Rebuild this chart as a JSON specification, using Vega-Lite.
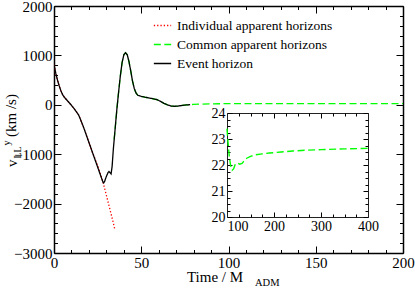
{
  "$schema": "https://vega.github.io/schema/vega-lite/v6.json",
  "width": 349,
  "height": 247,
  "autosize": "none",
  "padding": {"left": 54, "top": 6, "right": 12, "bottom": 35},
  "config": {
    "view": {"stroke": null},
    "axis": {"grid": false, "labelFont": "Times New Roman", "labelFontSize": 15, "labelColor": "#000", "domainColor": "#000", "tickColor": "#000", "labelFlush": false, "labelOverlap": false, "title": null},
    "legend": {"labelFont": "Times New Roman", "labelLimit": 0}
  },
  "datasets": {
    "main": [
      {"s": "Individual apparent horizons", "t": 0, "v": 810}, {"s": "Individual apparent horizons", "t": 1, "v": 640}, {"s": "Individual apparent horizons", "t": 2, "v": 500}, {"s": "Individual apparent horizons", "t": 3, "v": 380}, {"s": "Individual apparent horizons", "t": 4, "v": 280}, {"s": "Individual apparent horizons", "t": 5, "v": 200}, {"s": "Individual apparent horizons", "t": 6, "v": 150}, {"s": "Individual apparent horizons", "t": 8, "v": 70}, {"s": "Individual apparent horizons", "t": 10, "v": -10}, {"s": "Individual apparent horizons", "t": 12, "v": -100}, {"s": "Individual apparent horizons", "t": 14, "v": -200}, {"s": "Individual apparent horizons", "t": 15, "v": -280}, {"s": "Individual apparent horizons", "t": 16, "v": -370}, {"s": "Individual apparent horizons", "t": 17, "v": -460}, {"s": "Individual apparent horizons", "t": 18, "v": -560}, {"s": "Individual apparent horizons", "t": 19, "v": -660}, {"s": "Individual apparent horizons", "t": 20, "v": -760}, {"s": "Individual apparent horizons", "t": 21, "v": -860}, {"s": "Individual apparent horizons", "t": 22, "v": -960}, {"s": "Individual apparent horizons", "t": 23, "v": -1050}, {"s": "Individual apparent horizons", "t": 24, "v": -1140}, {"s": "Individual apparent horizons", "t": 25, "v": -1230}, {"s": "Individual apparent horizons", "t": 26, "v": -1330}, {"s": "Individual apparent horizons", "t": 27, "v": -1440}, {"s": "Individual apparent horizons", "t": 28, "v": -1560}, {"s": "Individual apparent horizons", "t": 29, "v": -1690}, {"s": "Individual apparent horizons", "t": 30, "v": -1830}, {"s": "Individual apparent horizons", "t": 31, "v": -1970}, {"s": "Individual apparent horizons", "t": 32, "v": -2110}, {"s": "Individual apparent horizons", "t": 33, "v": -2250}, {"s": "Individual apparent horizons", "t": 34, "v": -2390}, {"s": "Individual apparent horizons", "t": 34.9, "v": -2530},

      {"s": "Common apparent horizons", "t": 34.5, "v": -700}, {"s": "Common apparent horizons", "t": 35, "v": -500}, {"s": "Common apparent horizons", "t": 36, "v": -100}, {"s": "Common apparent horizons", "t": 37, "v": 250}, {"s": "Common apparent horizons", "t": 38, "v": 580}, {"s": "Common apparent horizons", "t": 39, "v": 850}, {"s": "Common apparent horizons", "t": 40, "v": 1010}, {"s": "Common apparent horizons", "t": 41, "v": 1055}, {"s": "Common apparent horizons", "t": 42, "v": 1010}, {"s": "Common apparent horizons", "t": 43, "v": 870}, {"s": "Common apparent horizons", "t": 44, "v": 680}, {"s": "Common apparent horizons", "t": 45, "v": 480}, {"s": "Common apparent horizons", "t": 46, "v": 330}, {"s": "Common apparent horizons", "t": 47, "v": 240}, {"s": "Common apparent horizons", "t": 48, "v": 195}, {"s": "Common apparent horizons", "t": 50, "v": 170}, {"s": "Common apparent horizons", "t": 52, "v": 155}, {"s": "Common apparent horizons", "t": 55, "v": 135}, {"s": "Common apparent horizons", "t": 57, "v": 120}, {"s": "Common apparent horizons", "t": 59, "v": 105}, {"s": "Common apparent horizons", "t": 61, "v": 70}, {"s": "Common apparent horizons", "t": 63, "v": 30}, {"s": "Common apparent horizons", "t": 65, "v": 0}, {"s": "Common apparent horizons", "t": 67, "v": -25}, {"s": "Common apparent horizons", "t": 69, "v": -30}, {"s": "Common apparent horizons", "t": 71, "v": -25}, {"s": "Common apparent horizons", "t": 73, "v": -15}, {"s": "Common apparent horizons", "t": 75, "v": -5}, {"s": "Common apparent horizons", "t": 77, "v": 0}, {"s": "Common apparent horizons", "t": 78, "v": 3}, {"s": "Common apparent horizons", "t": 80, "v": 8}, {"s": "Common apparent horizons", "t": 85, "v": 15}, {"s": "Common apparent horizons", "t": 90, "v": 20}, {"s": "Common apparent horizons", "t": 100, "v": 23}, {"s": "Common apparent horizons", "t": 120, "v": 22}, {"s": "Common apparent horizons", "t": 150, "v": 22.3}, {"s": "Common apparent horizons", "t": 200, "v": 22.5},

      {"s": "Event horizon", "t": 0, "v": 810}, {"s": "Event horizon", "t": 1, "v": 640}, {"s": "Event horizon", "t": 2, "v": 500}, {"s": "Event horizon", "t": 3, "v": 380}, {"s": "Event horizon", "t": 4, "v": 280}, {"s": "Event horizon", "t": 5, "v": 200}, {"s": "Event horizon", "t": 6, "v": 150}, {"s": "Event horizon", "t": 8, "v": 70}, {"s": "Event horizon", "t": 10, "v": -10}, {"s": "Event horizon", "t": 12, "v": -100}, {"s": "Event horizon", "t": 14, "v": -200}, {"s": "Event horizon", "t": 15, "v": -280}, {"s": "Event horizon", "t": 16, "v": -370}, {"s": "Event horizon", "t": 17, "v": -460}, {"s": "Event horizon", "t": 18, "v": -560}, {"s": "Event horizon", "t": 19, "v": -660}, {"s": "Event horizon", "t": 20, "v": -760}, {"s": "Event horizon", "t": 21, "v": -860}, {"s": "Event horizon", "t": 22, "v": -960}, {"s": "Event horizon", "t": 23, "v": -1060}, {"s": "Event horizon", "t": 24, "v": -1160}, {"s": "Event horizon", "t": 25, "v": -1260}, {"s": "Event horizon", "t": 26, "v": -1360}, {"s": "Event horizon", "t": 27, "v": -1460}, {"s": "Event horizon", "t": 28, "v": -1560}, {"s": "Event horizon", "t": 28.5, "v": -1580}, {"s": "Event horizon", "t": 29, "v": -1550}, {"s": "Event horizon", "t": 30, "v": -1450}, {"s": "Event horizon", "t": 31, "v": -1370}, {"s": "Event horizon", "t": 31.5, "v": -1350}, {"s": "Event horizon", "t": 32, "v": -1370}, {"s": "Event horizon", "t": 32.7, "v": -1400}, {"s": "Event horizon", "t": 33.3, "v": -1250}, {"s": "Event horizon", "t": 34, "v": -900}, {"s": "Event horizon", "t": 35, "v": -500}, {"s": "Event horizon", "t": 36, "v": -100}, {"s": "Event horizon", "t": 37, "v": 250}, {"s": "Event horizon", "t": 38, "v": 580}, {"s": "Event horizon", "t": 39, "v": 850}, {"s": "Event horizon", "t": 40, "v": 1010}, {"s": "Event horizon", "t": 41, "v": 1055}, {"s": "Event horizon", "t": 42, "v": 1010}, {"s": "Event horizon", "t": 43, "v": 870}, {"s": "Event horizon", "t": 44, "v": 680}, {"s": "Event horizon", "t": 45, "v": 480}, {"s": "Event horizon", "t": 46, "v": 330}, {"s": "Event horizon", "t": 47, "v": 240}, {"s": "Event horizon", "t": 48, "v": 195}, {"s": "Event horizon", "t": 50, "v": 170}, {"s": "Event horizon", "t": 52, "v": 155}, {"s": "Event horizon", "t": 55, "v": 135}, {"s": "Event horizon", "t": 57, "v": 120}, {"s": "Event horizon", "t": 59, "v": 105}, {"s": "Event horizon", "t": 61, "v": 70}, {"s": "Event horizon", "t": 63, "v": 30}, {"s": "Event horizon", "t": 65, "v": 0}, {"s": "Event horizon", "t": 67, "v": -25}, {"s": "Event horizon", "t": 69, "v": -30}, {"s": "Event horizon", "t": 71, "v": -25}, {"s": "Event horizon", "t": 73, "v": -15}, {"s": "Event horizon", "t": 75, "v": -5}, {"s": "Event horizon", "t": 77, "v": 0}, {"s": "Event horizon", "t": 78, "v": 3}
    ],
    "inset": [
      {"t": 100, "v": 23.4}, {"t": 102, "v": 22.9}, {"t": 105, "v": 22.3}, {"t": 108, "v": 21.95}, {"t": 111, "v": 21.8}, {"t": 114, "v": 21.85}, {"t": 118, "v": 22.05}, {"t": 122, "v": 22.08}, {"t": 127, "v": 22.03}, {"t": 132, "v": 22.06}, {"t": 137, "v": 22.17}, {"t": 142, "v": 22.26}, {"t": 150, "v": 22.33}, {"t": 160, "v": 22.39}, {"t": 175, "v": 22.43}, {"t": 190, "v": 22.46}, {"t": 215, "v": 22.5}, {"t": 240, "v": 22.54}, {"t": 270, "v": 22.57}, {"t": 300, "v": 22.59}, {"t": 350, "v": 22.62}, {"t": 400, "v": 22.64}
    ],
    "bigh": [{"txt": "Time / M", "t": 76.2, "v": -3587}],
    "smallh": [{"txt": "ADM", "t": 115.2, "v": -3668}],
    "bigv": [{"txt": "v", "t": -21.2, "v": -1259}, {"txt": "(km /s)", "t": -21.8, "v": -652}],
    "smallv": [{"txt": "LL", "t": -18.9, "v": -1087}, {"txt": "y", "t": -25.5, "v": -824}]
  },
  "layer": [
    {
      "data": {"name": "main"},
      "mark": {"type": "line", "strokeWidth": 1.3, "clip": true},
      "encoding": {
        "x": {"field": "t", "type": "quantitative", "scale": {"domain": [0, 200], "range": [0, 349], "nice": false, "zero": false},
          "axis": {"orient": "bottom", "values": [0, 50, 100, 150, 200], "tickSize": -7, "labelPadding": 9, "domainWidth": 1.5}},
        "y": {"field": "v", "type": "quantitative", "scale": {"domain": [-3000, 2000], "range": [247, 0], "nice": false, "zero": false},
          "axis": {"orient": "left", "values": [-3000, -2000, -1000, 0, 1000, 2000], "tickSize": -7, "labelPadding": 9, "domainWidth": 1.5, "format": "d"}},
        "color": {"field": "s", "type": "nominal", "scale": {"domain": ["Individual apparent horizons", "Common apparent horizons", "Event horizon"], "range": ["#ff0000", "#00ff00", "#000000"]},
          "legend": {"orient": "none", "legendX": 99, "legendY": 10, "title": null, "symbolType": "stroke", "symbolSize": 300, "symbolStrokeWidth": 1.5, "labelFontSize": 13.5, "labelColor": "#000", "rowPadding": 3, "labelOffset": 5, "padding": 0}},
        "strokeDash": {"field": "s", "type": "nominal", "scale": {"domain": ["Individual apparent horizons", "Common apparent horizons", "Event horizon"], "range": [[1.3, 2], [7, 3.5], [1, 0]]}}
      }
    },
    {
      "data": {"name": "main"},
      "mark": {"type": "point", "opacity": 0},
      "encoding": {
        "x": {"field": "t", "type": "quantitative", "scale": {"domain": [0, 200], "range": [0, 349], "nice": false, "zero": false}, "axis": {"orient": "top", "values": [0, 50, 100, 150, 200], "tickSize": -7, "labels": false, "domainWidth": 1.5}},
        "y": {"field": "v", "type": "quantitative", "scale": {"domain": [-3000, 2000], "range": [247, 0], "nice": false, "zero": false}, "axis": {"orient": "right", "values": [-3000, -2000, -1000, 0, 1000, 2000], "tickSize": -7, "labels": false, "domainWidth": 1.5}}
      }
    },
    {
      "data": {"name": "main"},
      "mark": {"type": "point", "opacity": 0},
      "encoding": {
        "x": {"field": "t", "type": "quantitative", "scale": {"domain": [0, 200], "range": [0, 349], "nice": false, "zero": false}, "axis": {"orient": "bottom", "values": [10, 20, 30, 40, 60, 70, 80, 90, 110, 120, 130, 140, 160, 170, 180, 190], "tickSize": -3.5, "labels": false, "domain": false}},
        "y": {"field": "v", "type": "quantitative", "scale": {"domain": [-3000, 2000], "range": [247, 0], "nice": false, "zero": false}, "axis": {"orient": "left", "values": [-2800, -2600, -2400, -2200, -1800, -1600, -1400, -1200, -800, -600, -400, -200, 200, 400, 600, 800, 1200, 1400, 1600, 1800], "tickSize": -3.5, "labels": false, "domain": false}}
      }
    },
    {
      "data": {"name": "main"},
      "mark": {"type": "point", "opacity": 0},
      "encoding": {
        "x": {"field": "t", "type": "quantitative", "scale": {"domain": [0, 200], "range": [0, 349], "nice": false, "zero": false}, "axis": {"orient": "top", "values": [10, 20, 30, 40, 60, 70, 80, 90, 110, 120, 130, 140, 160, 170, 180, 190], "tickSize": -3.5, "labels": false, "domain": false}},
        "y": {"field": "v", "type": "quantitative", "scale": {"domain": [-3000, 2000], "range": [247, 0], "nice": false, "zero": false}, "axis": {"orient": "right", "values": [-2800, -2600, -2400, -2200, -1800, -1600, -1400, -1200, -800, -600, -400, -200, 200, 400, 600, 800, 1200, 1400, 1600, 1800], "tickSize": -3.5, "labels": false, "domain": false}}
      }
    },
    {
      "data": {"name": "bigh"},
      "mark": {"type": "text", "align": "left", "baseline": "alphabetic", "color": "#000", "font": "Times New Roman", "fontSize": 15},
      "encoding": {"x": {"field": "t", "type": "quantitative", "scale": {"domain": [0, 200], "range": [0, 349], "nice": false, "zero": false}, "axis": null}, "y": {"field": "v", "type": "quantitative", "scale": {"domain": [-3000, 2000], "range": [247, 0], "nice": false, "zero": false}, "axis": null}, "text": {"field": "txt"}}
    },
    {
      "data": {"name": "smallh"},
      "mark": {"type": "text", "align": "left", "baseline": "alphabetic", "color": "#000", "font": "Times New Roman", "fontSize": 10.5},
      "encoding": {"x": {"field": "t", "type": "quantitative", "scale": {"domain": [0, 200], "range": [0, 349], "nice": false, "zero": false}, "axis": null}, "y": {"field": "v", "type": "quantitative", "scale": {"domain": [-3000, 2000], "range": [247, 0], "nice": false, "zero": false}, "axis": null}, "text": {"field": "txt"}}
    },
    {
      "data": {"name": "bigv"},
      "mark": {"type": "text", "align": "left", "baseline": "alphabetic", "color": "#000", "font": "Times New Roman", "fontSize": 15, "angle": 270},
      "encoding": {"x": {"field": "t", "type": "quantitative", "scale": {"domain": [0, 200], "range": [0, 349], "nice": false, "zero": false}, "axis": null}, "y": {"field": "v", "type": "quantitative", "scale": {"domain": [-3000, 2000], "range": [247, 0], "nice": false, "zero": false}, "axis": null}, "text": {"field": "txt"}}
    },
    {
      "data": {"name": "smallv"},
      "mark": {"type": "text", "align": "left", "baseline": "alphabetic", "color": "#000", "font": "Times New Roman", "fontSize": 10, "angle": 270},
      "encoding": {"x": {"field": "t", "type": "quantitative", "scale": {"domain": [0, 200], "range": [0, 349], "nice": false, "zero": false}, "axis": null}, "y": {"field": "v", "type": "quantitative", "scale": {"domain": [-3000, 2000], "range": [247, 0], "nice": false, "zero": false}, "axis": null}, "text": {"field": "txt"}}
    },
    {
      "data": {"name": "inset"},
      "mark": {"type": "line", "color": "#00ff00", "strokeWidth": 1.4, "strokeDash": [7, 3.5], "clip": true},
      "encoding": {
        "x": {"field": "t", "type": "quantitative", "scale": {"domain": [100, 400], "range": [173, 314], "nice": false, "zero": false},
          "axis": {"orient": "bottom", "offset": -36, "values": [100, 200, 300, 400], "labelExpr": "datum.value == 100 ? '' : datum.label", "tickSize": -5, "labelPadding": 7, "labelFontSize": 14, "domainColor": "#222"}},
        "y": {"field": "v", "type": "quantitative", "scale": {"domain": [20, 24], "range": [211, 107], "nice": false, "zero": false},
          "axis": {"orient": "left", "offset": -173, "values": [20, 21, 22, 23, 24], "tickSize": -5, "labelPadding": 7, "labelFontSize": 14, "domainColor": "#222"}}
      }
    },
    {
      "data": {"name": "inset"},
      "mark": {"type": "point", "opacity": 0},
      "encoding": {
        "x": {"field": "t", "type": "quantitative", "scale": {"domain": [100, 400], "range": [173, 314], "nice": false, "zero": false}, "axis": {"orient": "top", "offset": -107, "values": [100, 200, 300, 400], "tickSize": -5, "labels": false, "domainColor": "#222"}},
        "y": {"field": "v", "type": "quantitative", "scale": {"domain": [20, 24], "range": [211, 107], "nice": false, "zero": false}, "axis": {"orient": "right", "offset": -35, "values": [20, 21, 22, 23, 24], "tickSize": -5, "labels": false, "domainColor": "#222"}}
      }
    },
    {
      "data": {"name": "inset"},
      "mark": {"type": "point", "opacity": 0},
      "encoding": {
        "x": {"field": "t", "type": "quantitative", "scale": {"domain": [100, 400], "range": [173, 314], "nice": false, "zero": false}, "axis": {"orient": "bottom", "offset": -36, "values": [125, 150, 175, 225, 250, 275, 325, 350, 375], "tickSize": -3, "labels": false, "domain": false}},
        "y": {"field": "v", "type": "quantitative", "scale": {"domain": [20, 24], "range": [211, 107], "nice": false, "zero": false}, "axis": {"orient": "left", "offset": -173, "values": [20.25, 20.5, 20.75, 21.25, 21.5, 21.75, 22.25, 22.5, 22.75, 23.25, 23.5, 23.75], "tickSize": -3, "labels": false, "domain": false}}
      }
    },
    {
      "data": {"name": "inset"},
      "mark": {"type": "point", "opacity": 0},
      "encoding": {
        "x": {"field": "t", "type": "quantitative", "scale": {"domain": [100, 400], "range": [173, 314], "nice": false, "zero": false}, "axis": {"orient": "top", "offset": -107, "values": [125, 150, 175, 225, 250, 275, 325, 350, 375], "tickSize": -3, "labels": false, "domain": false}},
        "y": {"field": "v", "type": "quantitative", "scale": {"domain": [20, 24], "range": [211, 107], "nice": false, "zero": false}, "axis": {"orient": "right", "offset": -35, "values": [20.25, 20.5, 20.75, 21.25, 21.5, 21.75, 22.25, 22.5, 22.75, 23.25, 23.5, 23.75], "tickSize": -3, "labels": false, "domain": false}}
      }
    },
    {
      "data": {"name": "inset"},
      "mark": {"type": "point", "opacity": 0},
      "encoding": {
        "x": {"field": "t", "type": "quantitative", "scale": {"domain": [100, 400], "range": [173, 314], "nice": false, "zero": false}, "axis": {"orient": "bottom", "offset": -36, "values": [100], "ticks": false, "domain": false, "labelAlign": "left", "labelPadding": 2, "labelFontSize": 14}},
        "y": {"field": "v", "type": "quantitative", "scale": {"domain": [20, 24], "range": [211, 107], "nice": false, "zero": false}, "axis": null}
      }
    }
  ],
  "resolve": {"scale": {"x": "independent", "y": "independent"}, "axis": {"x": "independent", "y": "independent"}}
}
